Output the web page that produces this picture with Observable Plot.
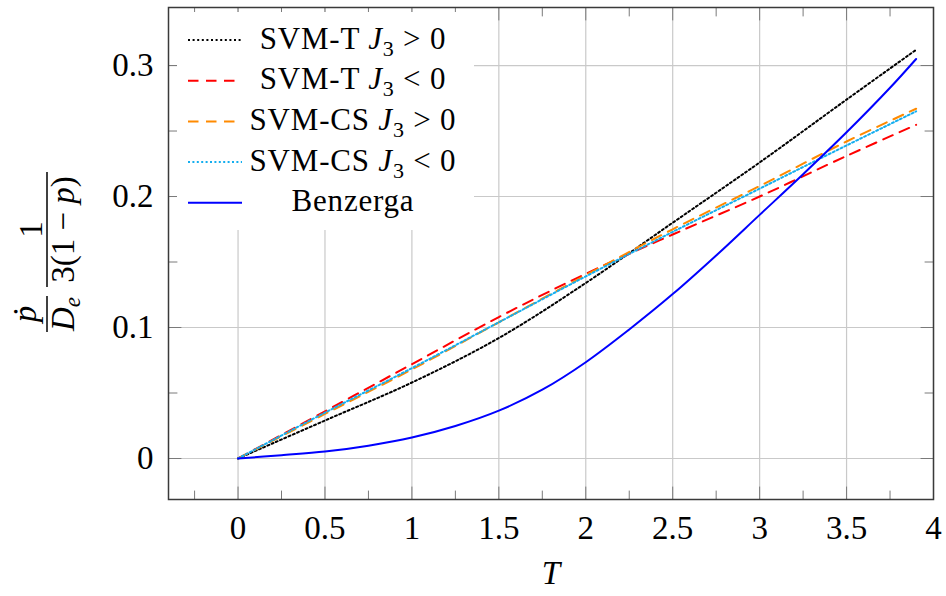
<!DOCTYPE html>
<html><head><meta charset="utf-8">
<script src="https://cdn.jsdelivr.net/npm/d3@7"></script>
<script src="https://cdn.jsdelivr.net/npm/@observablehq/plot@0.6"></script>
<style>body{margin:0;background:#fff}</style>
</head><body><div id="chart"></div>
<script>
// ---- data ----
const T = [0, 0.5, 1, 1.5, 2, 2.5, 3, 3.5, 3.9];
const svmTpos  = [0, 0.029, 0.058, 0.092, 0.134, 0.180, 0.226, 0.274, 0.312];
const svmTneg  = [0, 0.036, 0.072, 0.108, 0.141, 0.171, 0.200, 0.231, 0.2547];
const svmCSpos = [0, 0.034, 0.068, 0.104, 0.140, 0.175, 0.208, 0.242, 0.267];
const svmCSneg = [0, 0.035, 0.069, 0.104, 0.139, 0.173, 0.206, 0.239, 0.265];
const Tbenz = [0, 0.25, 0.5, 0.75, 1, 1.25, 1.5, 1.75, 2, 2.25, 2.5, 2.75, 3, 3.25, 3.5, 3.75, 3.9];
const benz  = [0, 0.0025, 0.0053, 0.0098, 0.016, 0.0248, 0.0365, 0.0525, 0.0735, 0.0985, 0.1255, 0.155, 0.186, 0.217, 0.249, 0.283, 0.305];

const seriesNames = ["SVM-T", "SVM-T", "SVM-CS", "SVM-CS", "Benzerga"];
const seriesSigns = [">", "<", ">", "<", ""];
const seriesColors = ["#000000", "#ff0000", "#ff8a00", "#14aeef", "#0000ff"];
const seriesDash = ["2 2.6", "10.5 7.5", "10.5 7.5", "2 2.4", null];

const xMajor = [0, 0.5, 1, 1.5, 2, 2.5, 3, 3.5, 4];
const xMinor = [-0.25, 0.25, 0.75, 1.25, 1.75, 2.25, 2.75, 3.25, 3.75];
const xLabels = ["0", "0.5", "1", "1.5", "2", "2.5", "3", "3.5", "4"];
const yMajor = [0, 0.1, 0.2, 0.3];
const yMinor = [0.05, 0.15, 0.25];
const yLabels = ["0", "0.1", "0.2", "0.3"];

const mk = (xs, ys) => xs.map((x, i) => ({x, y: ys[i]}));
const seriesData = [mk(T, svmTpos), mk(T, svmTneg), mk(T, svmCSpos), mk(T, svmCSneg), mk(Tbenz, benz)];

const tickShape = {draw(ctx, l) { ctx.moveTo(0, 0); ctx.lineTo(0, -l); }};
const tickMarks = (vals, anchor, rotate, len) =>
  Plot.vector(vals, {
    ...(anchor === "bottom" || anchor === "top" ? {x: d => d} : {y: d => d}),
    frameAnchor: anchor, rotate, length: len, anchor: "start",
    shape: tickShape, stroke: "#7a7a7a", strokeWidth: 1
  });

const FONT = "'Liberation Serif', 'DejaVu Serif', serif";

const svg = Plot.plot({
  width: 946, height: 596,
  marginLeft: 168, marginRight: 13, marginTop: 7, marginBottom: 97,
  style: {fontFamily: FONT, background: "#fff", color: "#000"},
  x: {domain: [-0.4, 4]},
  y: {domain: [-0.0313, 0.3443]},
  marks: [
    Plot.gridX(xMajor, {stroke: "#c9c9c9", strokeOpacity: 1, strokeWidth: 1.2}),
    Plot.gridY(yMajor, {stroke: "#c9c9c9", strokeOpacity: 1, strokeWidth: 1.2}),
    tickMarks(xMajor, "bottom", 0, 12.5),
    tickMarks(xMinor, "bottom", 0, 8.5),
    tickMarks(xMajor, "top", 180, 12.5),
    tickMarks(xMinor, "top", 180, 8.5),
    tickMarks(yMajor, "left", 90, 12.5),
    tickMarks(yMinor, "left", 90, 8.5),
    tickMarks(yMajor, "right", -90, 12.5),
    tickMarks(yMinor, "right", -90, 8.5),
    Plot.axisX(xMajor, {anchor: "bottom", tickSize: 0, tickPadding: 16, fontSize: 33,
      fontFamily: FONT, tickFormat: (d, i) => xLabels[i], label: null}),
    Plot.axisY(yMajor, {anchor: "left", tickSize: 0, tickPadding: 15, fontSize: 33,
      fontFamily: FONT, tickFormat: (d, i) => yLabels[i], label: null}),
    ...seriesData.map((data, i) => Plot.line(data, {
      x: "x", y: "y", curve: "catmull-rom",
      stroke: seriesColors[i], strokeWidth: 2,
      strokeDasharray: seriesDash[i] ?? undefined
    })),
    Plot.frame({stroke: "#3a3a3a", strokeWidth: 1.5})
  ]
});

document.getElementById("chart").appendChild(svg);
const s = d3.select(svg);

// x-axis title
s.append("text").attr("x", 551).attr("y", 584).attr("text-anchor", "middle")
  .attr("font-family", FONT).attr("font-size", 33).attr("font-style", "italic").text("T");

// y-axis title: (ṗ / D_e) · 1 / 3(1 − p), rotated
const g = s.append("g").attr("transform", "translate(47,252) rotate(-90)")
  .attr("font-family", FONT).attr("font-size", 33).attr("fill", "#000");
g.append("line").attr("x1", -80).attr("x2", -44).attr("y1", 0).attr("y2", 0).attr("stroke", "#000").attr("stroke-width", 1.5);
g.append("line").attr("x1", -35).attr("x2", 80).attr("y1", 0).attr("y2", 0).attr("stroke", "#000").attr("stroke-width", 1.5);
g.append("text").attr("x", -62).attr("y", -11).attr("text-anchor", "middle").attr("font-style", "italic").text("ṗ");
const den1 = g.append("text").attr("x", -62).attr("y", 27).attr("text-anchor", "middle");
den1.append("tspan").attr("font-style", "italic").text("D");
den1.append("tspan").attr("font-style", "italic").attr("font-size", 23).attr("dy", 6).text("e");
g.append("text").attr("x", 22.5).attr("y", -5).attr("text-anchor", "middle").text("1");
const den2 = g.append("text").attr("x", 22.5).attr("y", 27).attr("text-anchor", "middle");
den2.append("tspan").text("3(1 \u2212 ");
den2.append("tspan").attr("font-style", "italic").text("p");
den2.append("tspan").text(")");

// legend
const lg = s.append("g").attr("font-family", FONT).attr("font-size", 31).attr("letter-spacing", 0.8);
lg.append("rect").attr("x", 177).attr("y", 12).attr("width", 297).attr("height", 218).attr("fill", "#fff");
seriesNames.forEach((name, i) => {
  const cy = 40 + i * 40.7;
  lg.append("line").attr("x1", 188).attr("x2", 242).attr("y1", cy).attr("y2", cy)
    .attr("stroke", seriesColors[i]).attr("stroke-width", 2)
    .attr("stroke-dasharray", seriesDash[i]);
  const t = lg.append("text").attr("x", 353).attr("y", cy + 8.5).attr("text-anchor", "middle");
  if (seriesSigns[i]) {
    t.append("tspan").text(name + " ");
    t.append("tspan").attr("font-style", "italic").text("J");
    t.append("tspan").attr("font-size", 22).attr("dy", 7).text("3");
    t.append("tspan").attr("dy", -7).text(" " + seriesSigns[i] + " 0");
  } else {
    t.text(name);
  }
});
</script>
</body></html>
